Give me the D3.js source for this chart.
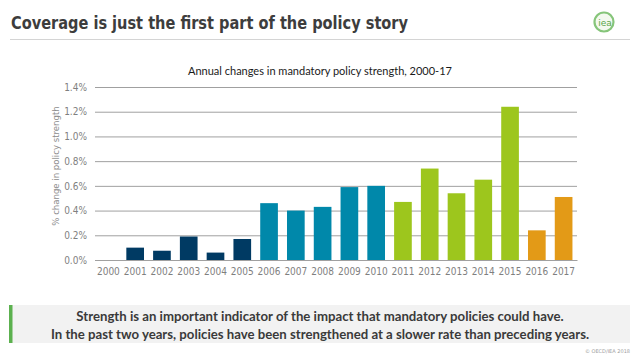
<!DOCTYPE html>
<html><head><meta charset="utf-8">
<script src="https://cdn.jsdelivr.net/npm/d3@7"></script>
<style>body{margin:0;background:#fff;}svg{display:block;}</style>
</head><body>
<svg id="c" width="638" height="359"></svg>
<script>
const years = ["2000","2001","2002","2003","2004","2005","2006","2007","2008","2009","2010","2011","2012","2013","2014","2015","2016","2017"];
const values = [0, 0.10, 0.075, 0.19, 0.06, 0.17, 0.46, 0.40, 0.43, 0.59, 0.60, 0.47, 0.74, 0.54, 0.65, 1.24, 0.24, 0.51];
const groups = ["a","a","a","a","a","a","b","b","b","b","b","c","c","c","c","c","d","d"];
const groupColors = {a:"#003a63", b:"#0088aa", c:"#9dc61d", d:"#e39a17"};
const yTicks = [0, 0.2, 0.4, 0.6, 0.8, 1.0, 1.2, 1.4];
const titleText = "Coverage is just the first part of the policy story";
const chartTitle = "Annual changes in mandatory policy strength, 2000-17";
const yAxisTitle = "% change in policy strength";
const footerLines = ["Strength is an important indicator of the impact that mandatory policies could have.",
  "In the past two years, policies have been strengthened at a slower rate than preceding years."];
const copyright = "© OECD/IEA 2018";

const svg = d3.select("#c");

// header
svg.append("text").attr("x",11).attr("y",28.5).text(titleText)
  .attr("font-family","'DejaVu Sans', sans-serif").attr("font-weight","bold")
  .attr("font-size",17).attr("fill","#3d3d3d")
  .attr("textLength",397).attr("lengthAdjust","spacingAndGlyphs");
svg.append("line").attr("x1",10).attr("x2",630).attr("y1",39.5).attr("y2",39.5)
  .attr("stroke","#d4d4d4").attr("stroke-width",1);
// logo
svg.append("circle").attr("cx",604).attr("cy",22).attr("r",9.5)
  .attr("fill","#f3f9ef").attr("stroke","#86c57a").attr("stroke-width",2.2);
svg.append("text").attr("x",605).attr("y",26).attr("text-anchor","middle")
  .attr("font-family","'DejaVu Sans', sans-serif").attr("font-size",9).attr("fill","#5aa64a").text("iea");

// chart
const x = d3.scaleBand().domain(years).range([95,577]).paddingInner(0.34).paddingOuter(0.17);
const y = d3.scaleLinear().domain([0,1.4]).range([260,87]);

svg.append("text").attr("x",320).attr("y",75).attr("text-anchor","middle")
  .attr("font-family","Lato, sans-serif").attr("font-size",11).attr("fill","#1a1a1a").text(chartTitle);

const grid = svg.append("g").attr("transform","translate(95,0)")
  .call(d3.axisLeft(y).tickValues(yTicks).tickSize(-482).tickFormat(d=>d.toFixed(1)+"%").tickPadding(8));
grid.select(".domain").remove();
grid.selectAll(".tick line").attr("stroke","#a0a0a0").attr("stroke-width",1);
grid.selectAll(".tick text").attr("fill","#7f7f7f").attr("font-size",10)
  .attr("font-family","'Liberation Sans Narrow','DejaVu Sans Condensed',sans-serif");

svg.append("g").selectAll("rect").data(years).join("rect")
  .attr("x",d=>x(d)).attr("width",x.bandwidth())
  .attr("y",(d,i)=>y(values[i])).attr("height",(d,i)=>y(0)-y(values[i]))
  .attr("fill",(d,i)=>groupColors[groups[i]]);

const xa = svg.append("g").attr("transform","translate(0,260)")
  .call(d3.axisBottom(x).tickSize(0).tickPadding(8));
xa.select(".domain").attr("stroke","#a0a0a0");
xa.selectAll(".tick text").attr("fill","#7f7f7f").attr("font-size",10)
  .attr("font-family","'Liberation Sans Narrow','DejaVu Sans Condensed',sans-serif");

svg.append("text").attr("transform","translate(59,166) rotate(-90)").attr("text-anchor","middle")
  .attr("font-family","'Liberation Sans Narrow','DejaVu Sans Condensed',sans-serif")
  .attr("font-size",9.5).attr("fill","#8c8c8c").text(yAxisTitle);

// footer
svg.append("rect").attr("x",9).attr("y",305).attr("width",621).attr("height",38).attr("fill","#f2f2f2");
svg.append("rect").attr("x",9).attr("y",305).attr("width",3.5).attr("height",38).attr("fill","#5cb14f");
footerLines.forEach((t,i)=>{
  svg.append("text").attr("x",320).attr("y",321+i*17.5).attr("text-anchor","middle")
    .attr("font-family","Lato, sans-serif").attr("font-weight","bold").attr("font-size",13.2)
    .attr("fill","#3a3a3a").text(t);
});
svg.append("text").attr("x",630).attr("y",353).attr("text-anchor","end")
  .attr("font-family","'DejaVu Sans', sans-serif").attr("font-size",5).attr("fill","#a0a0a0").text(copyright);
</script>
</body></html>
